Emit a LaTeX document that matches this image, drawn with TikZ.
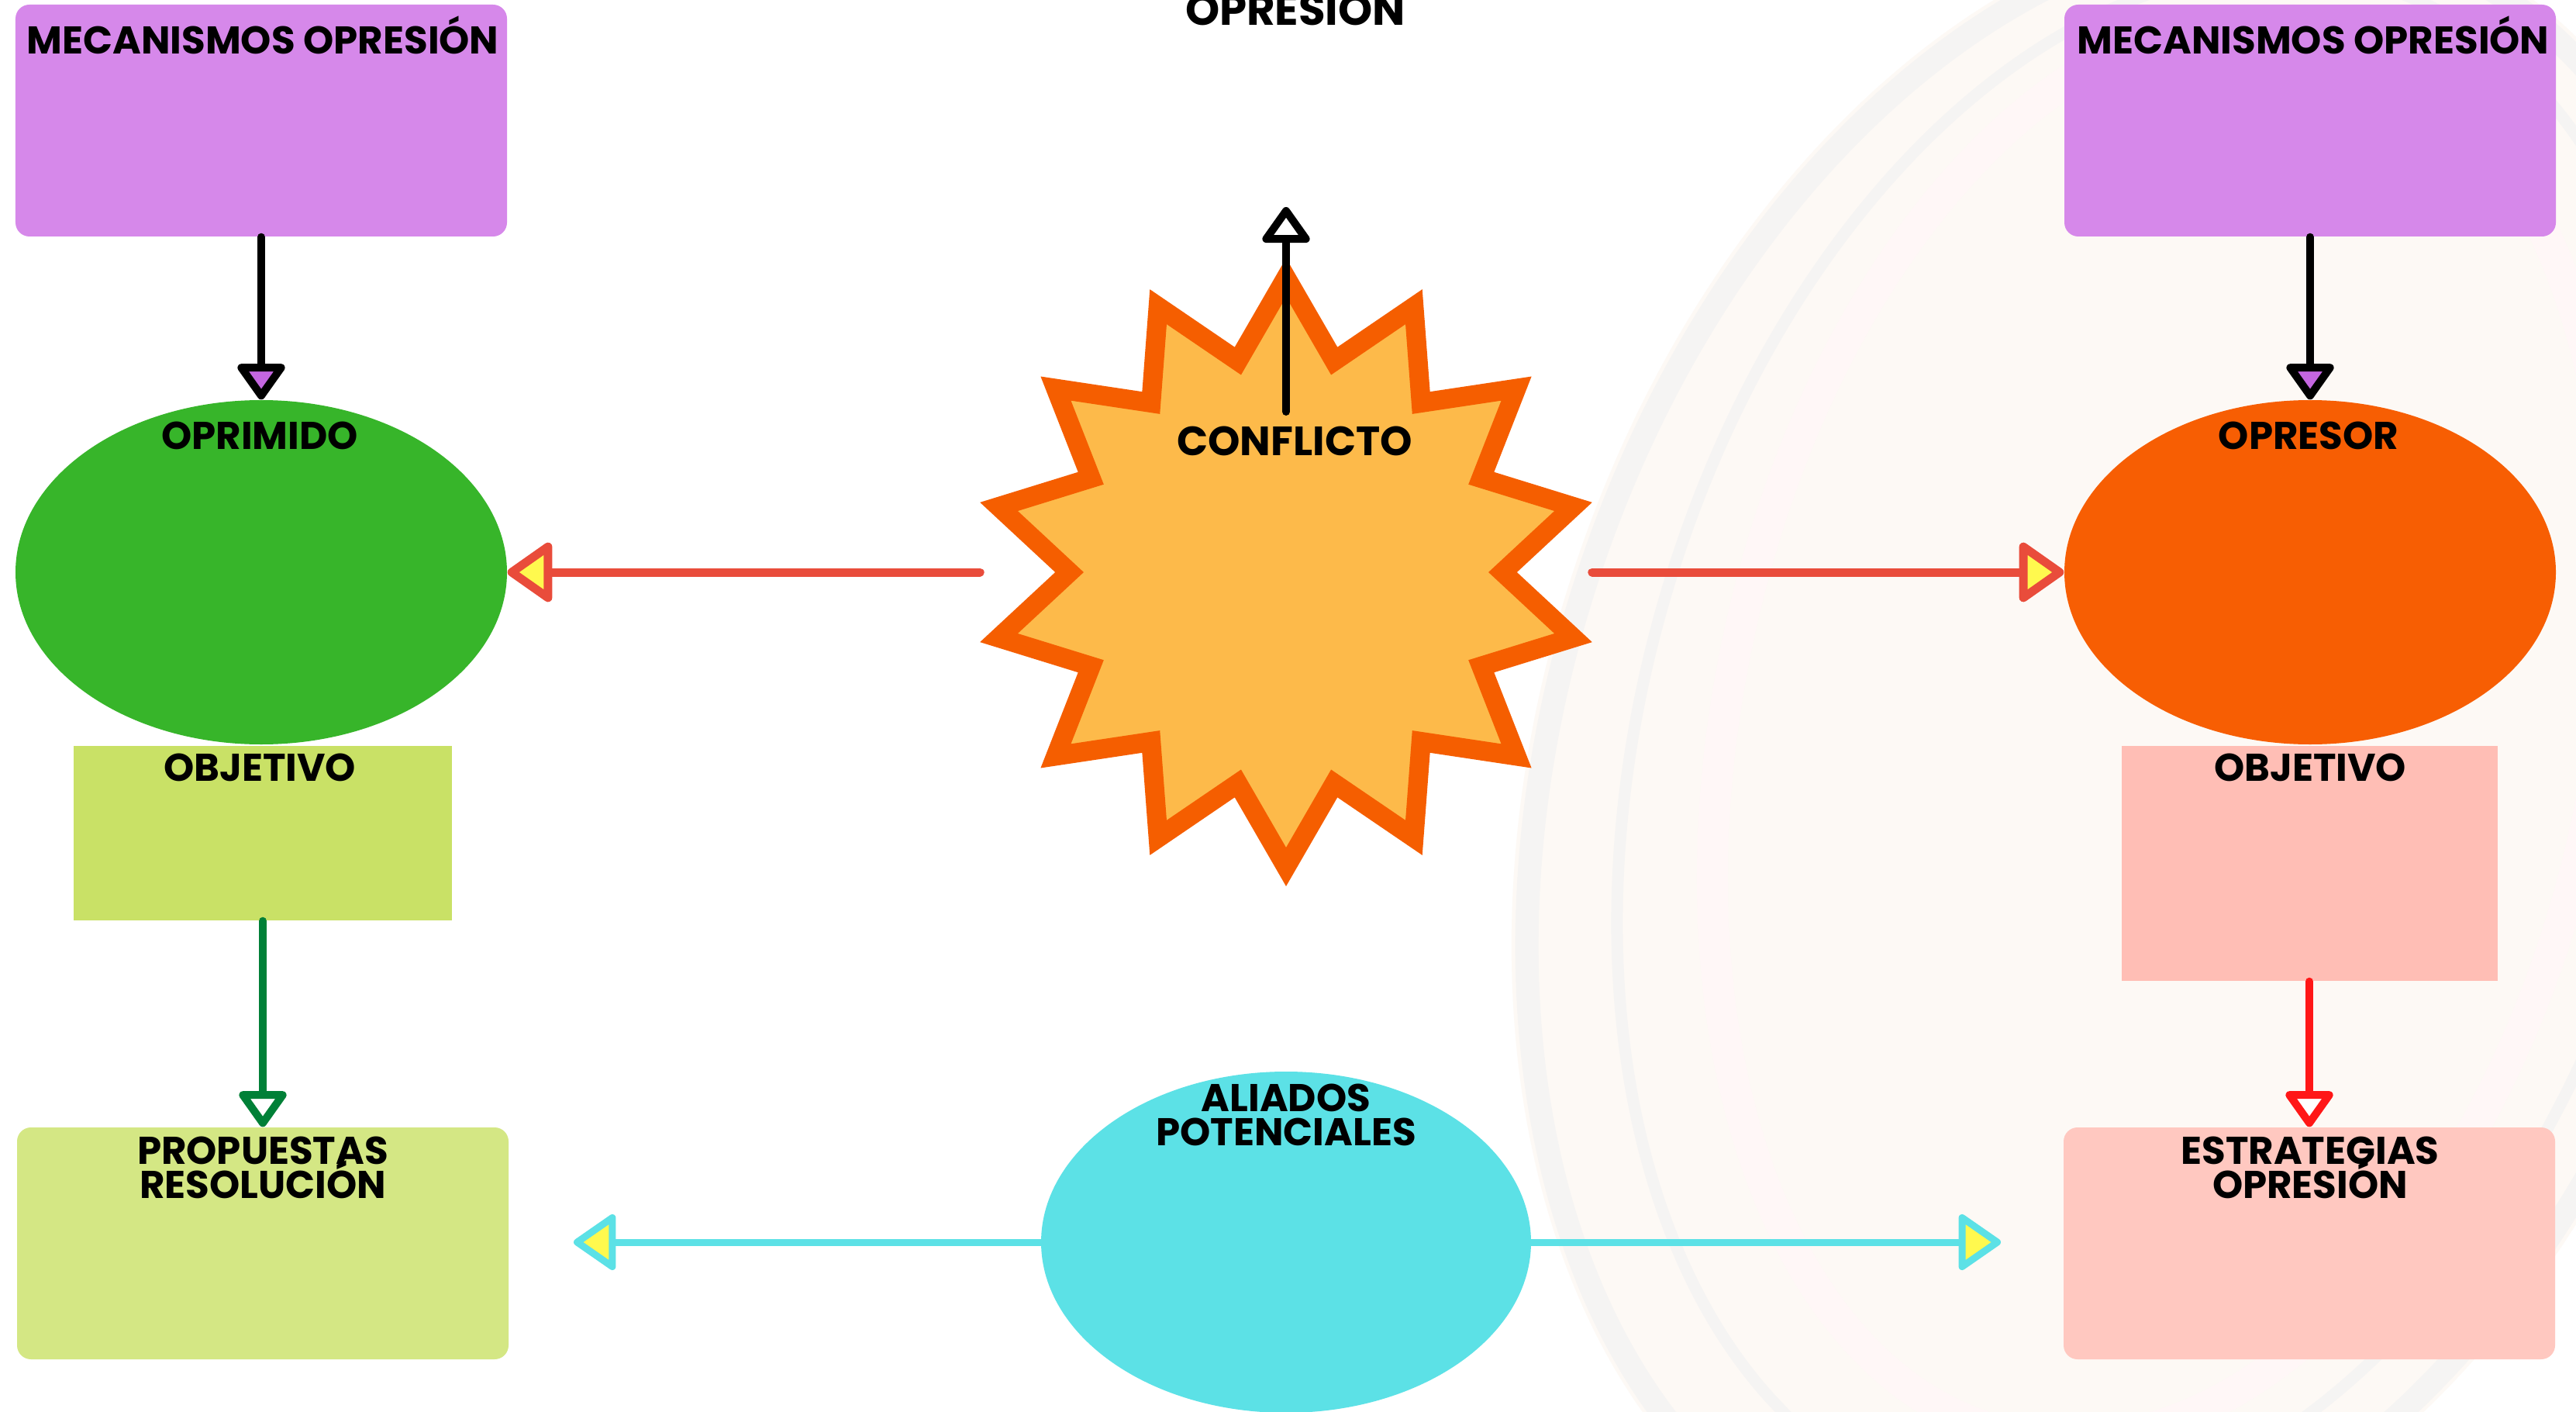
\documentclass[tikz,border=0pt]{standalone}
\usepackage{fontspec}
\setmainfont{Poppins}
\usepackage{tikz}
\usetikzlibrary{shapes.geometric, arrows.meta}
\newcommand{\fuentecaja}{\bfseries\fontsize{14.2}{12.6}\selectfont\lineskiplimit=-20pt\relax}

\begin{document}
\begin{tikzpicture}
			[line cap=round,
			%Styles
			caja/.style={inner sep=0, minimum width=6.34cm, minimum height=2.99cm, rounded corners=0.18cm},
			cuadro/.style={inner sep=0},
			globo/.style={ellipse, inner sep=0, minimum width=6.34cm, minimum height=4.44cm},
			titulo/.style={font=\fuentecaja, align=center, inner sep=0},
			bajada/.style={line width=0.1cm, -{Triangle[round, length=0.5cm, width=0.68cm, fill=#1]}},
			lateral/.style={line width=0.11cm, -{Triangle[round, length=0.62cm, width=0.84cm, fill=amarillo]}},
			aliada/.style={line width=0.09cm, cian, -{Triangle[round, length=0.58cm, width=0.78cm, fill=amarillo]}}
			]
			
			%Colors
			\definecolor{morado}{HTML}{D688EA}
			\definecolor{moradotip}{HTML}{C466E0}
			\definecolor{verde}{HTML}{37B52A}
			\definecolor{verdeobj}{HTML}{C9E166}
			\definecolor{verdeprop}{HTML}{D4E784}
			\definecolor{verdeosc}{HTML}{008037}
			\definecolor{naranja}{HTML}{F75E03}
			\definecolor{rosaobj}{HTML}{FFBEB5}
			\definecolor{rosaestr}{HTML}{FFC8C0}
			\definecolor{rojo}{HTML}{FF1717}
			\definecolor{estrella}{HTML}{FDBA4A}
			\definecolor{estrellaborde}{HTML}{F55E00}
			\definecolor{rojoflecha}{HTML}{E94C3B}
			\definecolor{amarillo}{HTML}{FFF94E}
			\definecolor{cian}{HTML}{5CE1E6}
			\definecolor{fondo}{HTML}{FDF9F5}
			\definecolor{fondogris}{HTML}{F5F4F3}
			
			%Background
			\fill[white] (0,0) rectangle (33.23,18.2);
			\useasboundingbox (0,0) rectangle (33.23,18.2);
			\begin{scope}
				\clip (0,0) rectangle (33.23,18.2);
				\fill[fondo, rotate around={-18:(27.6,8.4)}] (27.6,8.4) ellipse (7.7cm and 11.2cm);
				\draw[fondogris, line width=0.3cm, rotate around={-18:(27.6,8.4)}] (27.6,8.4) ellipse (7.5cm and 11cm);
				\draw[fondogris, line width=0.15cm, rotate around={-16:(27.8,8.6)}] (27.8,8.6) ellipse (6.6cm and 10.2cm);
				\draw[red!3, line width=0.4cm, rotate around={-12:(27.9,8.8)}] (27.9,8.8) ellipse (5.6cm and 9.3cm);
			\end{scope}
			
			%The graphic
			\node[caja, fill=morado] (mecL) at (3.37,16.645) {};
			\node[caja, fill=morado] (mecR) at (29.80,16.645) {};
			\node[globo, fill=verde] (oprimido) at (3.37,10.82) {};
			\node[globo, fill=naranja] (opresor) at (29.80,10.82) {};
			\node[cuadro, fill=verdeobj, minimum width=4.88cm, minimum height=2.25cm] (objL) at (3.39,7.455) {};
			\node[cuadro, fill=rosaobj, minimum width=4.85cm, minimum height=3.03cm] (objR) at (29.79,7.065) {};
			\node[caja, fill=verdeprop] (propL) at (3.39,2.165) {};
			\node[caja, fill=rosaestr] (estrR) at (29.79,2.165) {};
			\node[star, star points=14, star point ratio=1.36, minimum size=7.6cm, inner sep=0,
				fill=estrella, draw=estrellaborde, line width=0.25cm, line join=miter] (conflicto) at (16.59,10.82) {};
			\node[globo, fill=cian, minimum width=6.32cm, minimum height=4.4cm] (aliados) at (16.59,2.18) {};
			
			%Texts
			\node[titulo, anchor=base, font=\bfseries\fontsize{16}{16}\selectfont] (tTitulo) at (16.71,17.87) {OPRESIÓN};
			\node[titulo, anchor=base] (tMecL) at (3.39,17.50) {MECANISMOS OPRESIÓN};
			\node[titulo, anchor=base] (tMecR) at (29.84,17.50) {MECANISMOS OPRESIÓN};
			\node[titulo, anchor=base] (tOprimido) at (3.35,12.41) {OPRIMIDO};
			\node[titulo, anchor=base] (tOpresor) at (29.78,12.41) {OPRESOR};
			\node[titulo, anchor=base] (tObjL) at (3.35,8.13) {OBJETIVO};
			\node[titulo, anchor=base] (tObjR) at (29.80,8.13) {OBJETIVO};
			\node[titulo] (tProp) at (3.39,3.14) {PROPUESTAS\\RESOLUCIÓN};
			\node[titulo] (tEstr) at (29.80,3.14) {ESTRATEGIAS\\OPRESIÓN};
			\node[titulo, anchor=base, font=\bfseries\fontsize{15}{15}\selectfont] (tConflicto) at (16.70,12.33) {CONFLICTO};
			\node[titulo] (tAliados) at (16.59,3.82) {ALIADOS\\POTENCIALES};
			
			%Connectors
			\coordinate (abajo) at (16.59,12.89);
			\coordinate (arriba) at (16.59,15.53);
			\coordinate (cianL) at (7.40,2.18);
			\coordinate (cianR) at (25.81,2.18);
			
			\draw[bajada=moradotip, black] (mecL.south) -- (oprimido.north);
			\draw[bajada=moradotip, black] (mecR.south) -- (opresor.north);
			\draw[bajada=white, verdeosc] (objL.south) -- (propL.north);
			\draw[bajada=white, rojo] (objR.south) -- (estrR.north);
			\draw[bajada=white, black] (abajo) -- (arriba);
			
			\draw[lateral, rojoflecha] (conflicto.outer point 4 |- conflicto.center) -- (oprimido.east);
			\draw[lateral, rojoflecha] (conflicto.outer point 11 |- conflicto.center) -- (opresor.west);
			
			\draw[aliada] (aliados.west) -- (cianL);
			\draw[aliada] (aliados.east) -- (cianR);
		\end{tikzpicture}
\end{document}
